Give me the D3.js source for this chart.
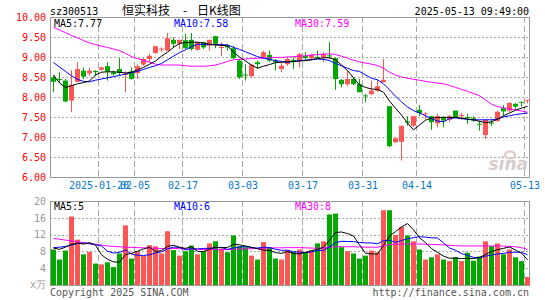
<!DOCTYPE html>
<html>
<head>
<meta charset="utf-8">
<script src="https://cdn.jsdelivr.net/npm/d3@7"></script>
<style>
body { margin: 0; background: #fff; }
svg text { font-family: "DejaVu Sans Mono", monospace; font-size: 10px; }
</style>
</head>
<body>
<div id="chart-area"></div>
<script>
// trading days shown on the chart
var dates = [
	"2025-01-08","2025-01-09","2025-01-10","2025-01-13","2025-01-14","2025-01-15","2025-01-16","2025-01-17",
	"2025-01-20","2025-01-21","2025-01-22","2025-01-23","2025-01-24","2025-01-27",
	"2025-02-05","2025-02-06","2025-02-07","2025-02-10","2025-02-11","2025-02-12","2025-02-13","2025-02-14",
	"2025-02-17","2025-02-18","2025-02-19","2025-02-20","2025-02-21","2025-02-24","2025-02-25","2025-02-26",
	"2025-02-27","2025-02-28",
	"2025-03-03","2025-03-04","2025-03-05","2025-03-06","2025-03-07","2025-03-10","2025-03-11","2025-03-12",
	"2025-03-13","2025-03-14","2025-03-17","2025-03-18","2025-03-19","2025-03-20","2025-03-21","2025-03-24",
	"2025-03-25","2025-03-26","2025-03-27","2025-03-28","2025-03-31",
	"2025-04-01","2025-04-02","2025-04-03","2025-04-07","2025-04-08","2025-04-09","2025-04-10","2025-04-11",
	"2025-04-14","2025-04-15","2025-04-16","2025-04-17","2025-04-18","2025-04-21","2025-04-22","2025-04-23",
	"2025-04-24","2025-04-25","2025-04-28","2025-04-29","2025-04-30",
	"2025-05-06","2025-05-07","2025-05-08","2025-05-09","2025-05-12","2025-05-13"
];

var opens = [8.49,8.45,8.41,7.91,8.38,8.66,8.59,8.65,8.68,8.77,8.62,8.70,8.55,8.64,8.60,8.81,8.95,9.10,9.20,9.16,
	9.43,9.33,9.42,9.43,9.18,9.37,9.28,9.52,9.23,9.28,9.22,8.91,8.56,8.52,8.87,8.99,9.05,8.91,8.70,8.82,
	8.93,8.91,9.03,8.97,9.00,8.99,9.04,8.97,8.43,8.32,8.45,8.32,8.04,8.07,8.16,8.37,7.77,6.87,6.88,7.39,
	7.28,7.68,7.57,7.52,7.34,7.49,7.43,7.66,7.52,7.50,7.47,7.33,7.05,7.36,7.40,7.72,7.66,7.83,7.88,7.91];
var highs = [8.55,8.62,8.45,8.67,8.87,8.74,8.74,8.67,8.76,8.87,8.66,8.97,8.64,8.74,8.82,8.97,9.08,9.28,9.24,9.60,
	9.49,9.43,9.58,9.60,9.38,9.38,9.43,9.53,9.37,9.33,9.28,8.95,8.82,8.82,8.91,9.16,9.16,8.95,8.87,8.99,
	8.99,9.10,9.12,9.08,9.16,9.12,9.37,8.99,8.45,8.66,8.49,8.45,8.08,8.41,8.43,8.95,7.77,6.99,7.28,7.52,
	7.53,7.80,7.62,7.53,7.58,7.52,7.55,7.66,7.60,7.58,7.52,7.41,7.45,7.45,7.66,7.80,7.87,7.85,7.88,7.93];
var lows = [8.12,8.37,7.87,7.62,8.37,8.45,8.53,8.53,8.66,8.41,8.53,8.53,8.12,8.43,8.45,8.78,8.87,9.08,9.13,9.16,
	9.24,9.20,9.20,9.16,9.16,9.20,9.16,9.22,9.02,9.16,8.95,8.45,8.41,8.49,8.70,8.95,8.87,8.66,8.62,8.78,
	8.70,8.74,8.93,8.91,8.95,8.87,8.95,8.18,8.24,8.27,8.30,8.12,7.87,8.05,8.12,8.37,6.74,6.85,6.41,7.28,
	7.26,7.52,7.45,7.18,7.24,7.24,7.37,7.47,7.43,7.33,7.38,7.16,6.95,7.28,7.38,7.53,7.62,7.70,7.76,7.84];
var closes = [8.38,8.43,7.89,8.31,8.70,8.51,8.66,8.62,8.74,8.64,8.57,8.60,8.59,8.45,8.77,8.95,9.03,9.27,9.21,9.47,
	9.33,9.43,9.22,9.20,9.37,9.24,9.43,9.33,9.25,9.24,8.97,8.49,8.55,8.81,8.82,9.12,8.91,8.87,8.78,8.95,
	8.87,9.07,8.97,9.05,8.98,9.07,9.02,8.45,8.32,8.45,8.32,8.12,8.02,8.16,8.27,8.43,6.77,6.97,7.28,7.36,
	7.52,7.60,7.59,7.37,7.52,7.41,7.52,7.49,7.55,7.48,7.41,7.31,7.43,7.34,7.63,7.64,7.85,7.76,7.86,7.93];

// moving averages as drawn
var ma5 = [8.55,8.35,8.24,8.28,8.33,8.36,8.40,8.55,8.62,8.63,8.63,8.62,8.60,8.62,8.68,8.74,8.82,8.90,9.02,9.12,
	9.24,9.34,9.36,9.37,9.37,9.35,9.32,9.30,9.29,9.28,9.12,9.00,8.90,8.80,8.72,8.77,8.81,8.86,8.87,8.88,
	8.89,8.90,8.91,8.93,8.96,8.98,8.98,8.93,8.80,8.66,8.48,8.30,8.24,8.20,8.19,8.12,7.90,7.72,7.55,7.35,
	7.18,7.30,7.42,7.47,7.49,7.49,7.49,7.49,7.47,7.45,7.43,7.39,7.36,7.38,7.45,7.53,7.60,7.67,7.72,7.77];
var ma10 = [8.86,8.75,8.64,8.53,8.44,8.39,8.38,8.42,8.45,8.48,8.51,8.54,8.57,8.61,8.64,8.69,8.74,8.78,8.84,8.93,
	9.02,9.11,9.18,9.26,9.32,9.31,9.31,9.31,9.31,9.30,9.24,9.19,9.13,9.07,9.01,8.97,8.94,8.91,8.89,8.87,
	8.89,8.91,8.92,8.94,8.95,8.94,8.91,8.84,8.78,8.72,8.66,8.64,8.55,8.47,8.43,8.33,8.18,8.02,7.88,7.75,
	7.66,7.60,7.53,7.46,7.40,7.38,7.46,7.48,7.46,7.44,7.43,7.43,7.43,7.43,7.45,7.50,7.53,7.56,7.58,7.60];
var ma30 = [9.74,9.67,9.61,9.54,9.48,9.41,9.35,9.31,9.27,9.24,9.20,9.16,9.09,9.01,8.96,8.92,8.87,8.82,8.80,8.80,
	8.80,8.80,8.78,8.77,8.77,8.77,8.78,8.80,8.84,8.89,8.93,8.94,8.95,8.96,8.97,8.97,8.98,8.99,8.99,9.00,
	9.01,9.02,9.03,9.05,9.06,9.07,9.08,9.06,9.02,8.97,8.92,8.88,8.85,8.82,8.79,8.72,8.62,8.55,8.50,8.47,
	8.44,8.42,8.39,8.37,8.35,8.33,8.29,8.24,8.19,8.14,8.09,8.03,7.93,7.82,7.76,7.73,7.70,7.68,7.65,7.62];

// volume, in 10k lots
var volumes = [8.45,6.07,8.2,16.3,10.8,7.3,7.9,5.1,4.9,5.4,4.25,7.5,14.2,6.3,7.9,7.0,9.5,9.2,7.5,12.8,
	8.3,7.0,8.05,9.4,7.3,8.05,9.9,10.4,8.6,7.8,11.8,9.25,9.0,7.0,6.07,10.2,9.0,6.3,6.07,8.3,
	7.9,8.45,7.9,8.3,9.9,10.4,16.8,17.0,9.0,8.05,7.5,6.3,7.0,8.2,7.8,17.8,17.8,11.9,13.8,11.8,
	10.4,8.45,6.07,6.6,7.3,6.07,5.7,6.6,5.7,7.7,5.8,6.8,10.4,9.25,9.9,7.3,8.45,6.6,5.7,1.9];
var volMa5 = [8.8,8.5,9.0,9.7,9.96,9.73,10.1,9.48,7.2,6.12,5.5,5.43,7.25,7.53,8.03,8.58,8.98,7.98,8.22,9.2,
	9.46,8.96,8.73,9.11,8.01,7.96,8.54,9.01,8.85,8.95,9.7,9.57,9.29,8.97,8.62,8.3,8.25,7.71,7.53,7.97,
	7.51,7.4,7.72,8.17,8.49,8.99,10.66,12.48,12.62,12.25,11.67,9.57,7.57,7.41,7.36,9.42,11.72,12.7,13.82,14.62,
	13.14,11.27,10.1,8.66,7.76,6.9,6.35,6.45,6.27,6.35,6.3,6.52,7.28,7.99,8.43,8.73,9.06,8.3,7.59,5.99];
var volMa10 = [8.9,9.0,9.2,9.5,9.9,10.0,9.8,9.6,9.3,8.04,7.6,7.77,8.37,7.37,7.08,7.04,7.2,7.6,7.88,8.6,
	9.02,8.97,8.36,8.67,8.6,8.71,8.75,8.87,8.98,8.48,8.83,9.06,9.15,8.91,8.79,9.0,8.91,8.5,8.25,8.3,
	7.9,7.83,7.72,7.85,8.23,8.25,9.03,10.1,10.4,10.37,10.33,10.12,10.03,10.02,9.8,10.55,10.65,10.14,10.6,10.99,
	11.28,11.5,11.4,11.24,11.19,10.02,8.81,8.28,7.47,7.06,6.6,6.44,6.87,7.13,7.39,7.52,7.79,7.79,7.79,7.21];
var volMa30 = [11.1,10.9,10.7,10.5,10.3,10.1,9.9,9.7,9.5,9.3,9.2,9.1,9.0,8.95,8.9,8.85,8.8,8.75,8.7,8.7,
	8.7,8.65,8.6,8.55,8.5,8.45,8.45,8.45,8.45,8.45,8.5,8.55,8.6,8.65,8.7,8.75,8.8,8.85,8.85,8.9,
	8.9,8.9,8.85,8.8,8.75,8.8,9.0,9.1,9.1,9.1,9.1,9.05,9.0,9.0,9.0,9.3,9.6,9.7,9.75,9.75,
	9.75,9.75,9.7,9.65,9.6,9.55,9.45,9.35,9.3,9.3,9.3,9.3,9.3,9.3,9.3,9.25,9.2,9.1,8.9,8.45];

// axis ticks
var dateTickIdx = [8, 14, 22, 32, 42, 52, 61, 79];
var priceTicks = [10, 9.5, 9, 8.5, 8, 7.5, 7, 6.5, 6];
var priceGrid = [9.5, 9, 8.5, 8, 7.5, 7, 6.5];
var volTicks = [20, 16, 12, 8, 4];
var volGrid = [16, 12, 8, 4];

var upColor = "#ff5555", downColor = "#00a800";
var gridColor = "#aaa";

var left = 50, right = 530;
var pTop = 17, pBottom = 177;
var vTop = 201, vBottom = 285;

var svg = d3.select("#chart-area")
	.append("svg")
		.attr("width", 545)
		.attr("height", 300);

// index scale, one 6px slot per trading day
var x = d3.scaleLinear()
	.domain([0, dates.length])
	.range([left, right]);

var y = d3.scaleLinear()
	.domain([6, 10])
	.range([pBottom, pTop]);

var yVol = d3.scaleLinear()
	.domain([0, 20])
	.range([vBottom, vTop]);

function isUp(i) { return closes[i] >= opens[i]; }

// header
svg.append("text")
	.attr("x", left)
	.attr("y", 15)
	.text("sz300513");

var title = svg.append("text")
	.attr("y", 15)
	.style("font-family", "'Noto Sans CJK SC', sans-serif")
	.style("font-size", "12px");
title.append("tspan").attr("x", 122).text("恒实科技");
title.append("tspan").attr("x", 183).text("-");
title.append("tspan").attr("x", 197).text("日K线图");

svg.append("text")
	.attr("x", 529)
	.attr("y", 15)
	.attr("text-anchor", "end")
	.text("2025-05-13 09:49:00");

// grid for both panels
function drawFrame(g, yScale, grid, y0, y1) {
	g.selectAll(".hgrid")
		.data(grid)
		.enter()
		.append("line")
			.attr("x1", left)
			.attr("x2", right)
			.attr("y1", function(d) { return Math.round(yScale(d)) + 0.5; })
			.attr("y2", function(d) { return Math.round(yScale(d)) + 0.5; })
			.attr("stroke", gridColor)
			.attr("stroke-dasharray", "2,2");

	g.selectAll(".vgrid")
		.data(dateTickIdx)
		.enter()
		.append("line")
			.attr("x1", function(i) { return x(i) + 0.5; })
			.attr("x2", function(i) { return x(i) + 0.5; })
			.attr("y1", y0)
			.attr("y2", y1)
			.attr("stroke", gridColor)
			.attr("stroke-dasharray", "6,3");

	g.append("rect")
		.attr("x", left + 0.5)
		.attr("y", y0 + 0.5)
		.attr("width", right - left - 1)
		.attr("height", y1 - y0)
		.attr("fill", "none")
		.attr("stroke", "#999");
}

var priceGroup = svg.append("g");
drawFrame(priceGroup, y, priceGrid, pTop, pBottom);

// watermark
svg.append("ellipse")
	.attr("cx", 510)
	.attr("cy", 155)
	.attr("rx", 5)
	.attr("ry", 3.5)
	.attr("fill", "none")
	.attr("stroke", "#e2c4c4")
	.attr("stroke-width", 2);
svg.append("text")
	.attr("x", 528)
	.attr("y", 170)
	.attr("text-anchor", "end")
	.style("font-family", "'DejaVu Sans', sans-serif")
	.style("font-size", "17px")
	.style("font-style", "italic")
	.style("font-weight", "bold")
	.attr("fill", "#d6cccc")
	.text("sina");

// candles
var candles = priceGroup.selectAll(".candle")
	.data(dates)
	.enter()
	.append("g");

candles.append("line")
	.attr("x1", function(d, i) { return x(i) + 3.5; })
	.attr("x2", function(d, i) { return x(i) + 3.5; })
	.attr("y1", function(d, i) { return y(highs[i]); })
	.attr("y2", function(d, i) { return y(lows[i]); })
	.attr("stroke", function(d, i) { return isUp(i) ? upColor : downColor; });

candles.append("rect")
	.attr("x", function(d, i) { return x(i) + 1; })
	.attr("width", 5)
	.attr("y", function(d, i) { return y(Math.max(opens[i], closes[i])); })
	.attr("height", function(d, i) {
		return Math.max(1, Math.abs(y(opens[i]) - y(closes[i])));
	})
	.attr("fill", function(d, i) { return isUp(i) ? upColor : downColor; });

// MA lines
function maLine(yScale) {
	return d3.line()
		.x(function(d, i) { return x(i) + 3.5; })
		.y(function(d) { return yScale(d); });
}
[[ma30, "#ff00ff"], [ma10, "#0000ff"], [ma5, "#000"]].forEach(function(s) {
	priceGroup.append("path")
		.attr("d", maLine(y)(s[0]))
		.attr("fill", "none")
		.attr("stroke", s[1]);
});

// legends
function legend(yPos, labels) {
	var xs = [54, 174, 295];
	var colors = ["#000", "#0000ff", "#ff00ff"];
	labels.forEach(function(t, k) {
		svg.append("text")
			.attr("x", xs[k])
			.attr("y", yPos)
			.attr("fill", colors[k])
			.text(t);
	});
}
legend(27, ["MA5:7.77", "MA10:7.58", "MA30:7.59"]);

// axes
var yAxis = d3.axisLeft(y)
	.tickValues(priceTicks)
	.tickFormat(d3.format(".2f"))
	.tickSize(0)
	.tickPadding(4);
svg.append("g")
	.attr("transform", "translate(" + left + ",0)")
	.call(yAxis)
	.call(function(g) { g.select(".domain").remove(); })
	.selectAll("text")
		.attr("fill", "#ff0000")
		.style("font-family", "'DejaVu Sans Mono', monospace")
		.style("font-size", "10px");

var xAxis = d3.axisBottom(x)
	.tickValues(dateTickIdx)
	.tickFormat(function(i) { return i === dateTickIdx[0] ? dates[i] : dates[i].slice(5); })
	.tickSize(0)
	.tickPadding(4);
svg.append("g")
	.attr("transform", "translate(0.5," + (pBottom + 1) + ")")
	.call(xAxis)
	.call(function(g) { g.select(".domain").remove(); })
	.selectAll("text")
		.attr("fill", "#0a78c8")
		.style("font-family", "'DejaVu Sans Mono', monospace")
		.style("font-size", "10px");

// volume panel
var volGroup = svg.append("g");
drawFrame(volGroup, yVol, volGrid, vTop, vBottom);

volGroup.selectAll(".vol")
	.data(volumes)
	.enter()
	.append("rect")
		.attr("x", function(d, i) { return x(i) + 1; })
		.attr("width", 5)
		.attr("y", function(d) { return yVol(d); })
		.attr("height", function(d) { return vBottom - yVol(d); })
		.attr("fill", function(d, i) { return isUp(i) ? upColor : downColor; });

[[volMa30, "#ff00ff"], [volMa10, "#0000ff"], [volMa5, "#000"]].forEach(function(s) {
	volGroup.append("path")
		.attr("d", maLine(yVol)(s[0]))
		.attr("fill", "none")
		.attr("stroke", s[1]);
});

legend(210, ["MA5:5", "MA10:6", "MA30:8"]);

var volAxis = d3.axisLeft(yVol)
	.tickValues(volTicks)
	.tickSize(0)
	.tickPadding(4);
svg.append("g")
	.attr("transform", "translate(" + left + ",0)")
	.call(volAxis)
	.call(function(g) { g.select(".domain").remove(); })
	.selectAll("text")
		.attr("fill", "#999")
		.style("font-family", "'DejaVu Sans Mono', monospace")
		.style("font-size", "10px");

svg.append("text")
	.attr("x", 46)
	.attr("y", 288)
	.attr("text-anchor", "end")
	.attr("fill", "#999")
	.text("x万");

// footer
svg.append("text")
	.attr("x", left)
	.attr("y", 296)
	.attr("fill", "#555")
	.text("Copyright 2025 SINA.COM");

svg.append("text")
	.attr("x", 529)
	.attr("y", 296)
	.attr("text-anchor", "end")
	.attr("fill", "#555")
	.text("http://finance.sina.com.cn");
</script>
</body>
</html>
